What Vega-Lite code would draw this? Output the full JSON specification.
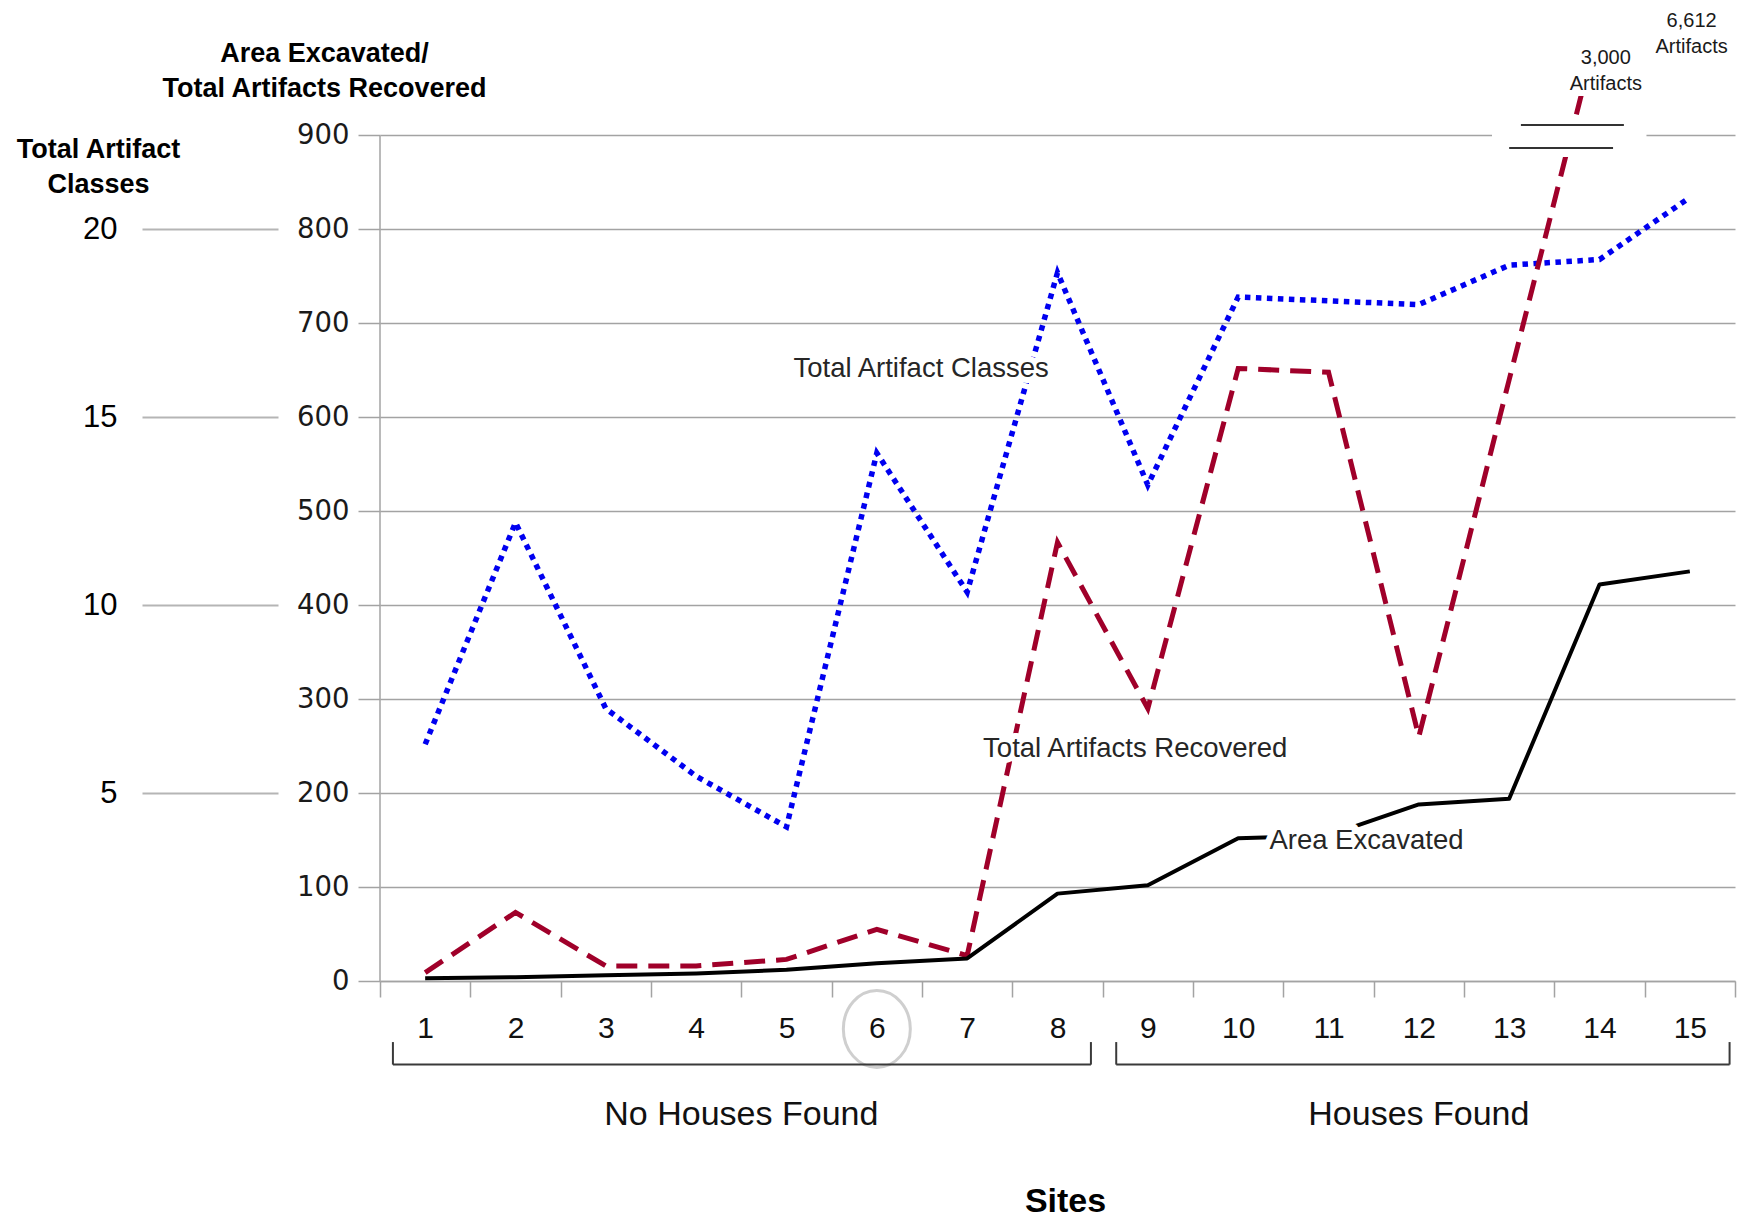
{
  "$schema": "https://vega.github.io/schema/vega-lite/v6.json",
  "width": 1355,
  "height": 885,
  "autosize": {"type": "none"},
  "padding": {"left": 380, "top": 96, "right": 17, "bottom": 238},
  "background": "white",
  "config": {"view": {"stroke": null}},
  "data": {"values": [
    {"site": 1, "housing": "No Houses Found", "area": 3, "artifacts": 9, "classes": 6.3},
    {"site": 2, "housing": "No Houses Found", "area": 4, "artifacts": 73, "classes": 12.2},
    {"site": 3, "housing": "No Houses Found", "area": 6, "artifacts": 16, "classes": 7.25},
    {"site": 4, "housing": "No Houses Found", "area": 8, "artifacts": 16, "classes": 5.45},
    {"site": 5, "housing": "No Houses Found", "area": 12, "artifacts": 23, "classes": 4.1},
    {"site": 6, "housing": "No Houses Found", "area": 19, "artifacts": 55, "classes": 14.05},
    {"site": 7, "housing": "No Houses Found", "area": 24, "artifacts": 27, "classes": 10.35},
    {"site": 8, "housing": "No Houses Found", "area": 93, "artifacts": 467, "classes": 18.85},
    {"site": 9, "housing": "Houses Found", "area": 102, "artifacts": 290, "classes": 13.2},
    {"site": 10, "housing": "Houses Found", "area": 152, "artifacts": 652, "classes": 18.2},
    {"site": 11, "housing": "Houses Found", "area": 155, "artifacts": 648, "classes": 18.1},
    {"site": 12, "housing": "Houses Found", "area": 188, "artifacts": 260, "classes": 18.0},
    {"site": 13, "housing": "Houses Found", "area": 194, "artifacts": 640, "classes": 19.05},
    {"site": 14, "housing": "Houses Found", "area": 422, "artifacts": 3000, "classes": 19.2},
    {"site": 15, "housing": "Houses Found", "area": 436, "artifacts": 6612, "classes": 20.85}
  ]},
  "resolve": {"scale": {"y": "independent"}},
  "layer": [
    {
      "layer": [
        {
          "data": {"values": [{}]},
          "mark": {"type": "rule", "color": "white", "strokeWidth": 4},
          "encoding": {
            "x": {"datum": 12.81, "type": "quantitative", "scale": {"domain": [0.5, 15.5], "nice": false, "zero": false}},
            "x2": {"datum": 14.52},
            "y": {"datum": 900, "type": "quantitative", "scale": {"domain": [0, 940, 3000, 6612], "range": [885, 1.9, -73, -300], "nice": false, "zero": false}, "axis": null}
          }
        },
        {
          "data": {"values": [{}]},
          "mark": {"type": "rule", "color": "#a3a3a3", "strokeWidth": 1.5},
          "encoding": {
            "x": {"datum": 0.5, "type": "quantitative", "scale": {"domain": [0.5, 15.5], "nice": false, "zero": false}},
            "y": {"datum": 0, "type": "quantitative", "scale": {"domain": [0, 940, 3000, 6612], "range": [885, 1.9, -73, -300], "nice": false, "zero": false}, "axis": null},
            "y2": {"datum": 900}
          }
        }
      ]
    },
    {
      "mark": {"type": "line", "color": "#0000f0", "strokeWidth": 5.5, "strokeDash": [5.5, 5.5], "strokeCap": "butt"},
      "encoding": {
        "x": {"field": "site", "type": "quantitative", "scale": {"domain": [0.5, 15.5], "nice": false, "zero": false}},
        "y": {
          "field": "classes", "type": "quantitative",
          "scale": {"domain": [0, 22.5], "range": [885, 39.5], "nice": false, "zero": false},
          "axis": {
            "orient": "left", "offset": 102, "values": [5, 10, 15, 20], "domain": false, "grid": false,
            "ticks": true, "tickSize": 136, "tickColor": "#b5b5b5", "tickWidth": 2,
            "labelPadding": 25, "labelFont": "Liberation Sans", "labelFontSize": 31, "labelColor": "#000000",
            "title": ["Total Artifact", "Classes"], "titleAngle": 0, "titleAlign": "center", "titleBaseline": "alphabetic",
            "titleX": -180, "titleY": 61, "titleFont": "Liberation Sans", "titleFontSize": 27, "titleFontWeight": "bold",
            "titleColor": "#000000", "titleLineHeight": 35
          }
        }
      }
    },
    {
      "layer": [
        {
          "mark": {"type": "line", "clip": true, "color": "#a0002a", "strokeWidth": 5, "strokeDash": [21, 11], "strokeCap": "butt"},
          "encoding": {
            "x": {
              "field": "site", "type": "quantitative",
              "scale": {"domain": [0.5, 15.5], "nice": false, "zero": false},
              "axis": {
                "orient": "bottom", "values": [0.5, 1.5, 2.5, 3.5, 4.5, 5.5, 6.5, 7.5, 8.5, 9.5, 10.5, 11.5, 12.5, 13.5, 14.5, 15.5],
                "domain": true, "domainColor": "#a3a3a3", "domainWidth": 1.5, "grid": false,
                "ticks": true, "tickSize": 16, "tickColor": "#a3a3a3", "tickWidth": 1.5,
                "labelExpr": "datum.value < 15 ? '' + (datum.value + 0.5) : ''",
                "labelOffset": 45.17, "labelPadding": 16, "labelFont": "Liberation Sans", "labelFontSize": 30,
                "labelColor": "#111111", "labelFlush": false, "labelOverlap": false, "labelBound": false,
                "title": "Sites", "titleX": 685, "titleY": 220, "titleBaseline": "middle", "titleAlign": "center",
                "titleFont": "Liberation Sans", "titleFontSize": 34, "titleFontWeight": "bold", "titleColor": "#000000"
              }
            },
            "y": {
              "field": "artifacts", "type": "quantitative",
              "scale": {"domain": [0, 940, 3000, 6612], "range": [885, 1.9, -73, -300], "nice": false, "zero": false},
              "axis": {
                "orient": "left", "values": [0, 100, 200, 300, 400, 500, 600, 700, 800, 900], "domain": false,
                "grid": true, "gridColor": "#a3a3a3", "gridWidth": 1.5,
                "ticks": true, "tickSize": 22, "tickColor": "#a3a3a3", "tickWidth": 1.5,
                "labelPadding": 9, "labelFont": "DejaVu Sans", "labelFontSize": 27.5, "labelColor": "#1a1a1a",
                "labelOverlap": false, "labelFlush": false,
                "title": ["Area Excavated/", "Total Artifacts Recovered"], "titleAngle": 0, "titleAlign": "center",
                "titleBaseline": "alphabetic", "titleX": -56, "titleY": -35, "titleFont": "Liberation Sans",
                "titleFontSize": 27, "titleFontWeight": "bold", "titleColor": "#000000", "titleLineHeight": 35
              }
            }
          }
        },
        {
          "mark": {"type": "line", "color": "#000000", "strokeWidth": 4, "strokeJoin": "round"},
          "encoding": {
            "x": {"field": "site", "type": "quantitative", "scale": {"domain": [0.5, 15.5], "nice": false, "zero": false}},
            "y": {"field": "area", "type": "quantitative", "scale": {"domain": [0, 940, 3000, 6612], "range": [885, 1.9, -73, -300], "nice": false, "zero": false}}
          }
        },
        {
          "data": {"values": [{}]},
          "mark": {"type": "rect", "color": "white"},
          "encoding": {
            "x": {"datum": 13.0, "type": "quantitative", "scale": {"domain": [0.5, 15.5], "nice": false, "zero": false}},
            "x2": {"datum": 14.3},
            "y": {"datum": 877, "type": "quantitative", "scale": {"domain": [0, 940, 3000, 6612], "range": [885, 1.9, -73, -300], "nice": false, "zero": false}},
            "y2": {"datum": 921.8}
          }
        },
        {
          "data": {"values": [{}]},
          "mark": {"type": "rule", "color": "#333333", "strokeWidth": 2},
          "encoding": {
            "x": {"datum": 13.13, "type": "quantitative", "scale": {"domain": [0.5, 15.5], "nice": false, "zero": false}},
            "x2": {"datum": 14.27},
            "y": {"datum": 911.2, "type": "quantitative", "scale": {"domain": [0, 940, 3000, 6612], "range": [885, 1.9, -73, -300], "nice": false, "zero": false}}
          }
        },
        {
          "data": {"values": [{}]},
          "mark": {"type": "rule", "color": "#333333", "strokeWidth": 2},
          "encoding": {
            "x": {"datum": 13.0, "type": "quantitative", "scale": {"domain": [0.5, 15.5], "nice": false, "zero": false}},
            "x2": {"datum": 14.15},
            "y": {"datum": 886.7, "type": "quantitative", "scale": {"domain": [0, 940, 3000, 6612], "range": [885, 1.9, -73, -300], "nice": false, "zero": false}}
          }
        },
        {
          "data": {"values": [{}]},
          "mark": {"type": "text", "text": "Total Artifact Classes", "font": "Liberation Sans", "fontSize": 27.5, "fill": "white", "stroke": "white", "strokeWidth": 12, "strokeJoin": "round", "align": "center", "baseline": "middle"},
          "encoding": {
            "x": {"datum": 6.49, "type": "quantitative", "scale": {"domain": [0.5, 15.5], "nice": false, "zero": false}},
            "y": {"datum": 651.4, "type": "quantitative", "scale": {"domain": [0, 940, 3000, 6612], "range": [885, 1.9, -73, -300], "nice": false, "zero": false}}
          }
        },
        {
          "data": {"values": [{}]},
          "mark": {"type": "text", "text": "Total Artifact Classes", "font": "Liberation Sans", "fontSize": 27.5, "color": "#262626", "align": "center", "baseline": "middle"},
          "encoding": {
            "x": {"datum": 6.49, "type": "quantitative", "scale": {"domain": [0.5, 15.5], "nice": false, "zero": false}},
            "y": {"datum": 651.4, "type": "quantitative", "scale": {"domain": [0, 940, 3000, 6612], "range": [885, 1.9, -73, -300], "nice": false, "zero": false}}
          }
        },
        {
          "data": {"values": [{}]},
          "mark": {"type": "text", "text": "Total Artifacts Recovered", "font": "Liberation Sans", "fontSize": 27.5, "fill": "white", "stroke": "white", "strokeWidth": 12, "strokeJoin": "round", "align": "center", "baseline": "middle"},
          "encoding": {
            "x": {"datum": 8.86, "type": "quantitative", "scale": {"domain": [0.5, 15.5], "nice": false, "zero": false}},
            "y": {"datum": 247, "type": "quantitative", "scale": {"domain": [0, 940, 3000, 6612], "range": [885, 1.9, -73, -300], "nice": false, "zero": false}}
          }
        },
        {
          "data": {"values": [{}]},
          "mark": {"type": "text", "text": "Total Artifacts Recovered", "font": "Liberation Sans", "fontSize": 27.5, "color": "#262626", "align": "center", "baseline": "middle"},
          "encoding": {
            "x": {"datum": 8.86, "type": "quantitative", "scale": {"domain": [0.5, 15.5], "nice": false, "zero": false}},
            "y": {"datum": 247, "type": "quantitative", "scale": {"domain": [0, 940, 3000, 6612], "range": [885, 1.9, -73, -300], "nice": false, "zero": false}}
          }
        },
        {
          "data": {"values": [{}]},
          "mark": {"type": "text", "text": "Area Excavated", "font": "Liberation Sans", "fontSize": 27.5, "fill": "white", "stroke": "white", "strokeWidth": 14, "strokeJoin": "round", "align": "center", "baseline": "middle"},
          "encoding": {
            "x": {"datum": 11.42, "type": "quantitative", "scale": {"domain": [0.5, 15.5], "nice": false, "zero": false}},
            "y": {"datum": 149, "type": "quantitative", "scale": {"domain": [0, 940, 3000, 6612], "range": [885, 1.9, -73, -300], "nice": false, "zero": false}}
          }
        },
        {
          "data": {"values": [{}]},
          "mark": {"type": "text", "text": "Area Excavated", "font": "Liberation Sans", "fontSize": 27.5, "color": "#262626", "align": "center", "baseline": "middle"},
          "encoding": {
            "x": {"datum": 11.42, "type": "quantitative", "scale": {"domain": [0.5, 15.5], "nice": false, "zero": false}},
            "y": {"datum": 149, "type": "quantitative", "scale": {"domain": [0, 940, 3000, 6612], "range": [885, 1.9, -73, -300], "nice": false, "zero": false}}
          }
        },
        {
          "data": {"values": [{}]},
          "mark": {"type": "text", "text": ["3,000", "Artifacts"], "lineHeight": 26, "font": "Liberation Sans", "fontSize": 20, "color": "#1a1a1a", "align": "center", "baseline": "alphabetic", "dy": -71.5},
          "encoding": {
            "x": {"datum": 14.07, "type": "quantitative", "scale": {"domain": [0.5, 15.5], "nice": false, "zero": false}},
            "y": {"datum": 900, "type": "quantitative", "scale": {"domain": [0, 940, 3000, 6612], "range": [885, 1.9, -73, -300], "nice": false, "zero": false}}
          }
        },
        {
          "data": {"values": [{}]},
          "mark": {"type": "text", "text": ["6,612", "Artifacts"], "lineHeight": 26, "font": "Liberation Sans", "fontSize": 20, "color": "#1a1a1a", "align": "center", "baseline": "alphabetic", "dy": -108.5},
          "encoding": {
            "x": {"datum": 15.02, "type": "quantitative", "scale": {"domain": [0.5, 15.5], "nice": false, "zero": false}},
            "y": {"datum": 900, "type": "quantitative", "scale": {"domain": [0, 940, 3000, 6612], "range": [885, 1.9, -73, -300], "nice": false, "zero": false}}
          }
        },
        {
          "data": {"values": [{}]},
          "mark": {"type": "point", "shape": "M -0.87 0 A 0.87 1 0 1 1 0.87 0 A 0.87 1 0 1 1 -0.87 0 Z", "size": 5929, "filled": false, "stroke": "#cfcfcf", "strokeWidth": 3, "opacity": 1},
          "encoding": {
            "x": {"datum": 6, "type": "quantitative", "scale": {"domain": [0.5, 15.5], "nice": false, "zero": false}},
            "y": {"datum": -51, "type": "quantitative", "scale": {"domain": [0, 940, 3000, 6612], "range": [885, 1.9, -73, -300], "nice": false, "zero": false}}
          }
        },
        {
          "data": {"values": [{}]},
          "mark": {"type": "rule", "color": "#3a3a3a", "strokeWidth": 2},
          "encoding": {
            "x": {"datum": 0.643, "type": "quantitative", "scale": {"domain": [0.5, 15.5], "nice": false, "zero": false}},
            "x2": {"datum": 8.37},
            "y": {"datum": -89, "type": "quantitative", "scale": {"domain": [0, 940, 3000, 6612], "range": [885, 1.9, -73, -300], "nice": false, "zero": false}}
          }
        },
        {
          "data": {"values": [{}]},
          "mark": {"type": "rule", "color": "#3a3a3a", "strokeWidth": 2},
          "encoding": {
            "x": {"datum": 8.65, "type": "quantitative", "scale": {"domain": [0.5, 15.5], "nice": false, "zero": false}},
            "x2": {"datum": 15.44},
            "y": {"datum": -89, "type": "quantitative", "scale": {"domain": [0, 940, 3000, 6612], "range": [885, 1.9, -73, -300], "nice": false, "zero": false}}
          }
        },
        {
          "data": {"values": [{}]},
          "mark": {"type": "rule", "color": "#3a3a3a", "strokeWidth": 2},
          "encoding": {
            "x": {"datum": 0.643, "type": "quantitative", "scale": {"domain": [0.5, 15.5], "nice": false, "zero": false}},
            "y": {"datum": -65, "type": "quantitative", "scale": {"domain": [0, 940, 3000, 6612], "range": [885, 1.9, -73, -300], "nice": false, "zero": false}},
            "y2": {"datum": -89}
          }
        },
        {
          "data": {"values": [{}]},
          "mark": {"type": "rule", "color": "#3a3a3a", "strokeWidth": 2},
          "encoding": {
            "x": {"datum": 8.37, "type": "quantitative", "scale": {"domain": [0.5, 15.5], "nice": false, "zero": false}},
            "y": {"datum": -65, "type": "quantitative", "scale": {"domain": [0, 940, 3000, 6612], "range": [885, 1.9, -73, -300], "nice": false, "zero": false}},
            "y2": {"datum": -89}
          }
        },
        {
          "data": {"values": [{}]},
          "mark": {"type": "rule", "color": "#3a3a3a", "strokeWidth": 2},
          "encoding": {
            "x": {"datum": 8.65, "type": "quantitative", "scale": {"domain": [0.5, 15.5], "nice": false, "zero": false}},
            "y": {"datum": -65, "type": "quantitative", "scale": {"domain": [0, 940, 3000, 6612], "range": [885, 1.9, -73, -300], "nice": false, "zero": false}},
            "y2": {"datum": -89}
          }
        },
        {
          "data": {"values": [{}]},
          "mark": {"type": "rule", "color": "#3a3a3a", "strokeWidth": 2},
          "encoding": {
            "x": {"datum": 15.44, "type": "quantitative", "scale": {"domain": [0.5, 15.5], "nice": false, "zero": false}},
            "y": {"datum": -65, "type": "quantitative", "scale": {"domain": [0, 940, 3000, 6612], "range": [885, 1.9, -73, -300], "nice": false, "zero": false}},
            "y2": {"datum": -89}
          }
        },
        {
          "mark": {"type": "text", "font": "Liberation Sans", "fontSize": 34, "color": "#111111", "align": "center", "baseline": "middle"},
          "encoding": {
            "x": {"aggregate": "mean", "field": "site", "type": "quantitative", "scale": {"domain": [0.5, 15.5], "nice": false, "zero": false}},
            "y": {"datum": -143, "type": "quantitative", "scale": {"domain": [0, 940, 3000, 6612], "range": [885, 1.9, -73, -300], "nice": false, "zero": false}},
            "text": {"field": "housing", "type": "nominal"}
          }
        }
      ]
    }
  ]
}
